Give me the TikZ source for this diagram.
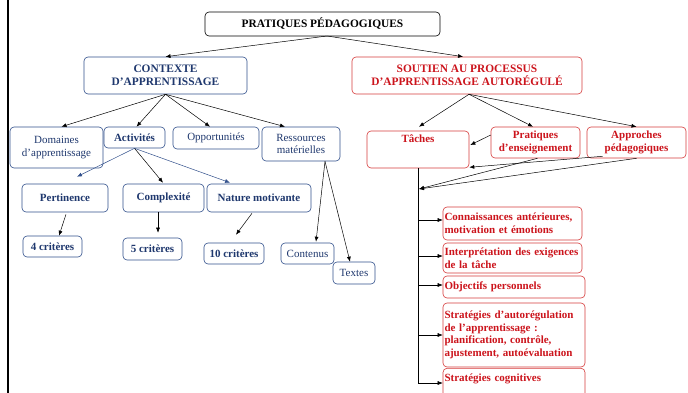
\documentclass[tikz,border=0pt]{standalone}
\usepackage{fontspec}
\setmainfont{Liberation Serif}
\usetikzlibrary{arrows.meta,calc}
\definecolor{bltext}{RGB}{31,56,110}
\definecolor{blline}{RGB}{50,80,140}
\definecolor{rdtext}{RGB}{204,20,28}
\definecolor{rdline}{RGB}{214,60,60}
\begin{document}
\begin{tikzpicture}[x=1pt,y=-1pt,
  bx/.style={draw, rounded corners=4pt, line width=0.6pt, inner sep=2pt, align=center, font=\fontsize{11}{12.6}\selectfont},
  hd/.style={font=\fontsize{11.4}{13}\selectfont\bfseries},
  bbn/.style={bx, draw=blline, text=bltext},
  bbb/.style={bbn, font=\fontsize{11}{12.6}\selectfont\bfseries},
  rb/.style={bx, draw=rdline, text=rdtext, font=\fontsize{11}{12.6}\selectfont\bfseries},
  rl/.style={rb, align=left, inner xsep=1.5pt, inner ysep=2pt},
  arr/.style={-{Latex[length=5pt,width=4pt]}, line width=0.5pt},
  ln/.style={line width=0.6pt},
]
\useasboundingbox (0,0) rectangle (688,393);
\clip (0,0) rectangle (688,393);
\fill[white] (0,0) rectangle (688,393);
\draw[line width=2pt] (8,0) -- (8,393);

% top
\node[bx, hd, minimum width=235, minimum height=24] (top) at (322.5,24) {PRATIQUES PÉDAGOGIQUES};
\node[bbn, hd, text=bltext, minimum width=163, minimum height=37] (ctx) at (165.5,75.5) {CONTEXTE\\D’APPRENTISSAGE};
\node[rb, hd, minimum width=230, minimum height=37] (sout) at (467,75.5) {SOUTIEN AU PROCESSUS\\D’APPRENTISSAGE AUTORÉGULÉ};

% left row 2
\node[bbn, minimum width=93, minimum height=41] (dom) at (56.5,147.5) {Domaines\\d’apprentissage};
\node[bbb, minimum width=61, minimum height=21] (act) at (134.5,137.5) {Activités};
\node[bbn, minimum width=86, minimum height=22] (opp) at (216,138) {Opportunités};
\node[bbn, minimum width=78, minimum height=34] (res) at (301,144) {Ressources\\matérielles};

% left row 3
\node[bbb, minimum width=86, minimum height=28] (pert) at (65,198) {Pertinence};
\node[bbb, minimum width=81, minimum height=28] (cplx) at (163.5,198) {Complexité};
\node[bbb, minimum width=104, minimum height=28] (nat) at (259,198) {Nature motivante};

% left row 4
\node[bbb, minimum width=59, minimum height=21] (c4) at (52.5,246.5) {4 critères};
\node[bbb, minimum width=59, minimum height=22] (c5) at (152.5,249) {5 critères};
\node[bbb, minimum width=60, minimum height=21] (c10) at (234,253.5) {10 critères};
\node[bbn, minimum width=53, minimum height=21] (cont) at (307.5,253.5) {Contenus};
\node[bbn, minimum width=42, minimum height=22] (tex) at (354,273) {Textes};

% right row 2
\node[rb, minimum width=102, minimum height=37, text depth=22pt] (taches) at (418,149.5) {Tâches};
\node[rb, minimum width=89, minimum height=31] (prat) at (535.5,142.5) {Pratiques\\d’enseignement};
\node[rb, minimum width=99, minimum height=31] (appr) at (636.5,142.5) {Approches\\pédagogiques};

% right column
\node[rl, text width=136, minimum height=33] (conn) at (512.5,223.5) {\mbox{Connaissances antérieures,}\\motivation et émotions};
\node[rl, text width=136, minimum height=30] (interp) at (512.5,258) {\mbox{Interprétation des exigences}\\de la tâche};
\node[rl, text width=139, minimum height=22] (obj) at (514,287) {Objectifs personnels};
\node[rl, text width=139, minimum height=64] (strat) at (514,335) {\mbox{Stratégies d’autorégulation}\\de l’apprentissage :\\planification, contrôle,\\\mbox{ajustement, autoévaluation}};
\node[rl, text width=139, text height=11pt, text depth=40pt, anchor=north] (cog) at (514,368) {Stratégies cognitives};

% connectors top
\coordinate (topo) at (327,36);
\draw[arr] (topo) -- (ctx.north);
\draw[arr] (topo) -- ($(sout.north)+(-4,0)$);

% left connectors
\draw[arr] (ctx.south) -- ($(dom.north)+(5,0)$);
\draw[arr] (ctx.south) -- ($(act.north)+(2,0)$);
\draw[arr] (ctx.south) -- ($(opp.north)+(-6,0)$);
\draw[arr] (ctx.south) -- ($(res.north)+(-16,0)$);
\draw[arr, blline] (act.south) -- ($(pert.north)+(12,-7)$);
\draw[arr] (act.south) -- ($(cplx.north)+(-0.5,-1)$);
\draw[arr, blline] (act.south) -- ($(nat.north)+(-29,-1)$);
\draw[arr] ($(pert.south)+(1,2)$) -- ($(c4.north)+(6.5,0)$);
\draw[arr] ($(cplx.south)+(-5.5,0)$) -- ($(c5.north)+(5.5,-5)$);
\draw[arr] ($(nat.south)+(-7,1)$) -- ($(c10.north)+(2,-8)$);
\draw[arr] ($(res.south)+(24,0)$) -- ($(cont.north)+(8.5,-1)$);
\draw[arr] ($(res.south)+(24,0)$) -- ($(tex.north)+(-4,0)$);

% right connectors
\draw[arr] ($(sout.south)+(2,0)$) -- ($(taches.north)+(1,-4)$);
\draw[arr] ($(sout.south)+(2,0)$) -- ($(prat.north)+(-2.5,0)$);
\draw[arr] ($(sout.south)+(2,0)$) -- (appr.north);
\draw[arr] ($(prat.west)+(0,-7.5)$) -- ($(taches.east)+(1,-4.5)$);
\coordinate (hub) at (419,189);
\draw[arr] ($(prat.south)+(2,0)$) -- (hub);
\draw[arr] (appr.south) -- (hub);
\draw[arr] ($(appr.south)+(-34,-2)$) -- ($(taches.south east)+(0,-1)$);

% vertical spine
\coordinate (vend) at (418,384);
\draw[ln] (taches.south) -- (vend);
\coordinate (h1) at (418,220);
\coordinate (h2) at (418,256);
\coordinate (h3) at (418,285);
\coordinate (h4) at (418,335);
\coordinate (h5) at (418,383);
\draw[arr] (h1) -- (h1 -| conn.west);
\draw[arr] (h2) -- (h2 -| interp.west);
\draw[arr] (h3) -- (h3 -| obj.west);
\draw[arr] (h4) -- (h4 -| strat.west);
\draw[arr] (h5) -- (h5 -| cog.west);
\end{tikzpicture}
\end{document}
